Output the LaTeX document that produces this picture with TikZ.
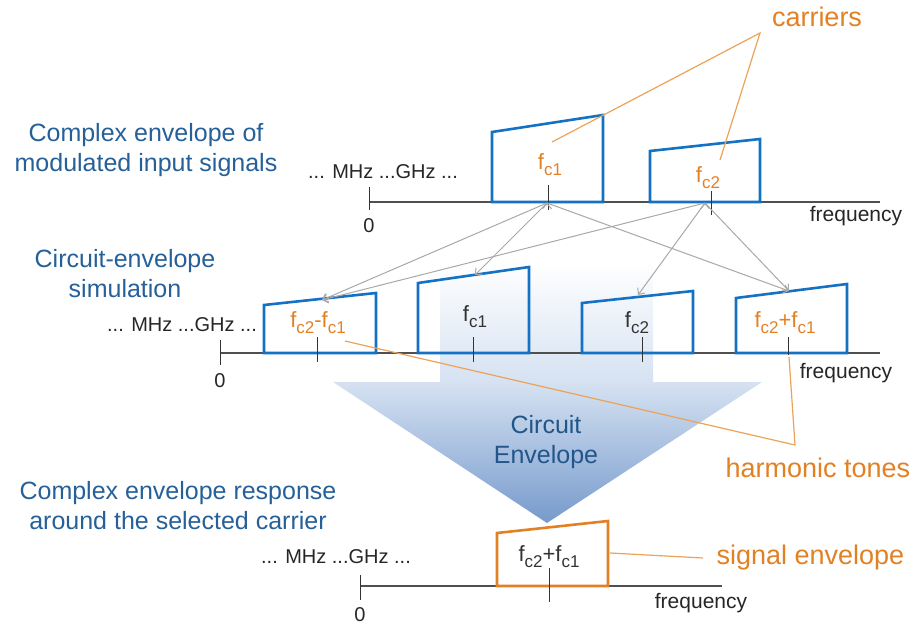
\documentclass[tikz,border=0pt]{standalone}
\usepackage{fontspec}
\setmainfont{Liberation Sans}
\usepackage{tikz}
\usetikzlibrary{positioning,calc,arrows,arrows.meta}

\definecolor{boxblue}{RGB}{20,114,196}
\definecolor{txtblue}{RGB}{38,96,152}
\definecolor{orng}{RGB}{226,128,36}
\definecolor{lineorng}{RGB}{236,162,88}
\definecolor{arrgray}{RGB}{168,168,168}
\definecolor{axgray}{RGB}{80,80,80}
\definecolor{envtip}{RGB}{118,154,204}
\definecolor{envmid}{RGB}{214,226,242}
\pgfdeclareverticalshading{envshade}{100bp}{color(0bp)=(envtip); color(25bp)=(envtip); color(52bp)=(envmid); color(75bp)=(white); color(100bp)=(white)}

\newcommand{\fc}[1]{f\raisebox{-0.28em}{\fontsize{17}{17}\selectfont c#1}}

\tikzset{
	bluelbl/.style={text=txtblue, font=\fontsize{25}{30}\selectfont, align=center},
	orglbl/.style={text=orng, font=\fontsize{27}{32}\selectfont},
	toneo/.style={text=orng, font=\fontsize{22}{24}\selectfont, inner sep=0pt},
	toneb/.style={text=black!80, font=\fontsize{22}{24}\selectfont, inner sep=0pt},
	axlbl/.style={text=black!85, font=\fontsize{20}{22}\selectfont, inner sep=0pt},
	freqlbl/.style={text=black!85, font=\fontsize{21}{23}\selectfont, inner sep=0pt},
	band/.style={draw=boxblue, line width=2.6pt},
	outband/.style={draw=orng, line width=2.6pt},
	axis/.style={draw=axgray, line width=1.3pt},
	tick/.style={draw=black!80, line width=1pt},
	mix/.style={draw=arrgray, line width=1pt, -{Straight Barb[length=5pt,width=9pt]}},
	leader/.style={draw=lineorng, line width=1.2pt}
}

\begin{document}
\begin{tikzpicture}[x=1pt,y=-1pt]
	\useasboundingbox (0,0) rectangle (921,628);

	% the big shaded arrow
	\shade[shading=envshade] (440,262) -- (653,262) -- (653,382) -- (762,382) -- (547,523)
		-- (333,382) -- (440,382) -- cycle;
	\node[bluelbl, text=txtblue!90!black] (ce) at (546,442) {Circuit\\Envelope};

	% row labels
	\node[bluelbl] (inlbl) at (146,150) {Complex envelope of\\modulated input signals};
	\node[bluelbl] (simlbl) at (125,274) {Circuit-envelope\\simulation};
	\node[bluelbl] (outlbl) at (178,506) {Complex envelope response\\around the selected carrier};

	% input spectrum
	\draw[axis] (369,202) -- (880,202);
	\draw[tick] (369,187) -- (369,210) coordinate (z1);
	\node[axlbl, below=8pt of z1] (zero1) {0};
	\node[axlbl] (rng1) at (383,172) {... MHz ...GHz ...};
	\node[freqlbl] (freq1) at (856,216) {frequency};
	\draw[band] (492,202) -- (492,132) -- (603,115) -- (603,202) -- cycle;
	\draw[band] (650,202) -- (650,151) -- (760,139) -- (760,202) -- cycle;
	\draw[tick] (548,185) -- (548,210);
	\draw[tick] (711,191) -- (711,215);
	\node[toneo] (in1) at (550,165) {\fc{1}};
	\node[toneo] (in2) at (708,178) {\fc{2}};

	% circuit-envelope spectrum
	\draw[axis] (220,353) -- (880,353);
	\draw[tick] (220,340) -- (220,365) coordinate (z2);
	\node[axlbl, below=8pt of z2] (zero2) {0};
	\node[axlbl] (rng2) at (182,325) {... MHz ...GHz ...};
	\node[freqlbl] (freq2) at (846,373) {frequency};
	\draw[band] (264,353) -- (264,305) -- (376,293) -- (376,353) -- cycle;
	\draw[band] (418,353) -- (418,283) -- (529,267) -- (529,353) -- cycle;
	\draw[band] (582,353) -- (582,303) -- (693,291) -- (693,353) -- cycle;
	\draw[band] (736,353) -- (736,298) -- (847,284) -- (847,353) -- cycle;
	\draw[tick] (317,337) -- (317,362);
	\draw[tick] (473,337) -- (473,362);
	\draw[tick] (642,337) -- (642,362);
	\draw[tick] (788,337) -- (788,355);
	\node[toneo] (diff) at (318,323) {\fc{2}-\fc{1}};
	\node[toneb] (mid1) at (475,317) {\fc{1}};
	\node[toneb] (mid2) at (637,323) {\fc{2}};
	\node[toneo] (sum) at (785,323) {\fc{2}+\fc{1}};

	% mixing paths
	\coordinate (o1) at (547,203);
	\coordinate (o2) at (705,203);
	\coordinate (tA) at (322,300);
	\coordinate (tB) at (475,275);
	\coordinate (tC) at (638,295);
	\coordinate (tD) at (789,291);
	\draw[mix] (o1) edge (tA) (o1) edge (tB) (o1) edge (tD);
	\draw[mix] (o2) edge (tA) (o2) edge (tC) (o2) edge (tD);

	% output spectrum
	\draw[axis] (360,586) -- (722,586);
	\draw[tick] (360,575) -- (360,600) coordinate (z3);
	\node[axlbl, below=7pt of z3] (zero3) {0};
	\node[axlbl] (rng3) at (336,557) {... MHz ...GHz ...};
	\node[freqlbl] (freq3) at (701,603) {frequency};
	\draw[outband] (497,586) -- (497,533) -- (608,521) -- (608,586) -- cycle;
	\draw[tick] (549,568) -- (549,602);
	\node[toneb] (out) at (549,557) {\fc{2}+\fc{1}};

	% callouts
	\node[orglbl] (carr) at (817,17) {carriers};
	\node[orglbl, anchor=west] (harm) at (722,468) {harmonic tones};
	\node[orglbl, anchor=west] (sigenv) at (713,558) {signal envelope};
	\coordinate (cap) at (760,33);
	\coordinate (hj) at (795,445);
	\draw[leader] (552,142) -- (cap) -- (720,160);
	\draw[leader] (345,341) -- (hj) -- (789,357);
	\draw[leader] (610,553) -- ([xshift=-10pt]sigenv.west);
\end{tikzpicture}
\end{document}
